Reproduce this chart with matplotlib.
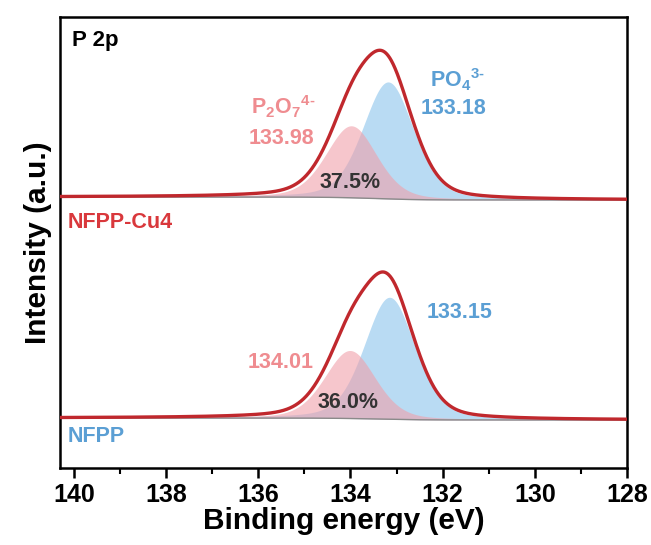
import numpy as np
import matplotlib
matplotlib.use("Agg")
import matplotlib.pyplot as plt

plt.rcParams['font.family'] = ['Liberation Sans', 'DejaVu Sans']
plt.rcParams['mathtext.fontset'] = 'custom'
plt.rcParams['mathtext.rm'] = 'Liberation Sans:bold'
plt.rcParams['mathtext.it'] = 'Liberation Sans:bold'
plt.rcParams['mathtext.bf'] = 'Liberation Sans:bold'

# ---- data (peak fit parameters) ----
samples = ["NFPP-Cu4", "NFPP"]
offsets = [220, 0]                      # vertical stacking offset
p2o7_center = [133.98, 134.01]
po4_center = [133.18, 133.15]
p2o7_height = [72, 68]
po4_height = [117, 122]
fwhm = [1.3, 1.3]
lor_frac = [0.3, 0.3]
bg_left = [3.0, 2.0]                    # background level at high BE side
bg_right = [0.0, 0.0]
ratio_labels = ["37.5%", "36.0%"]
xticks = [140, 138, 136, 134, 132, 130, 128]

x = np.linspace(140.3, 128.0, 1500)

def pv(x, c, h, w, m):
    g = np.exp(-4 * np.log(2) * (x - c) ** 2 / w ** 2)
    l = 1.0 / (1 + 4 * (x - c) ** 2 / w ** 2)
    return h * ((1 - m) * g + m * l)

fig = plt.figure(figsize=(6.51, 5.45), dpi=100)
ax = fig.add_axes([60/651, (545-468)/545, (627-60)/651, (468-17)/545])

red = '#c0282d'
pink_fill = '#f0a0aa'
blue_fill = '#b5d9f3'
pink_txt = '#ef8c90'
blue_txt = '#5b9fd4'

for i in range(2):
    off = offsets[i]
    a = pv(x, p2o7_center[i], p2o7_height[i], fwhm[i], lor_frac[i])
    b = pv(x, po4_center[i], po4_height[i], fwhm[i], lor_frac[i])
    env0 = a + b
    # Shirley-like background: step proportional to cumulative area from low BE side
    cum = np.cumsum(env0[::-1])[::-1]
    cum = cum / cum[0]
    bg = bg_right[i] + (bg_left[i] - bg_right[i]) * cum + off
    ax.fill_between(x, bg, bg + b, color=blue_fill, alpha=0.95, lw=0)
    ax.fill_between(x, bg, bg + a, color=pink_fill, alpha=0.6, lw=0)
    ax.plot(x, bg, color='#8a8a8a', lw=1.0)
    ax.plot(x, bg + env0, color=red, lw=2.4, zorder=5)

ax.set_xlim(140.3, 128.0)
ax.set_ylim(-48, 403)

def yd(py):
    return 420 - py

def xd(px):
    return 140 - (px - 73) / 46.2

fs = 15.5
ax.text(0.021, 0.949, "P 2p", transform=ax.transAxes, fontsize=16, fontweight='bold',
        va='center', ha='left', color='black')
ax.text(0.014, 0.545, samples[0], transform=ax.transAxes, fontsize=fs, fontweight='bold',
        va='center', ha='left', color='#d9383c')
ax.text(0.014, 0.069, samples[1], transform=ax.transAxes, fontsize=fs, fontweight='bold',
        va='center', ha='left', color=blue_txt)

ax.text(xd(283), yd(107), r"P$_2$O$_7$$^{4\text{-}}$", fontsize=fs, fontweight='bold',
        ha='center', va='center', color=pink_txt)
ax.text(xd(281), yd(138), f"{p2o7_center[0]:.2f}", fontsize=fs, fontweight='bold',
        ha='center', va='center', color=pink_txt)
ax.text(xd(458), yd(80), r"PO$_4$$^{3\text{-}}$", fontsize=fs, fontweight='bold',
        ha='center', va='center', color=blue_txt)
ax.text(xd(454), yd(108), f"{po4_center[0]:.2f}", fontsize=fs, fontweight='bold',
        ha='center', va='center', color=blue_txt)
ax.text(xd(350), yd(182), ratio_labels[0], fontsize=fs, fontweight='bold',
        ha='center', va='center', color='#333333', zorder=6)

ax.text(xd(460), yd(313), f"{po4_center[1]:.2f}", fontsize=fs, fontweight='bold',
        ha='center', va='center', color=blue_txt)
ax.text(xd(280), yd(363), f"{p2o7_center[1]:.2f}", fontsize=fs, fontweight='bold',
        ha='center', va='center', color=pink_txt)
ax.text(xd(348), yd(403), ratio_labels[1], fontsize=fs, fontweight='bold',
        ha='center', va='center', color='#333333', zorder=6)

ax.set_xticks(xticks)
ax.set_xticks(np.arange(139, 128, -2), minor=True)
ax.set_yticks([])
ax.tick_params(axis='x', which='major', length=7, width=1.8, direction='out', labelsize=18, pad=4)
ax.tick_params(axis='x', which='minor', length=4, width=1.5, direction='out')
for lab in ax.get_xticklabels():
    lab.set_fontweight('bold')
for s in ax.spines.values():
    s.set_linewidth(1.8)

ax.set_xlabel("Binding energy (eV)", fontsize=21.5, fontweight='bold', labelpad=0)
ax.set_ylabel("Intensity (a.u.)", fontsize=21.5, fontweight='bold', labelpad=6)

fig.savefig("out.png", dpi=100)
